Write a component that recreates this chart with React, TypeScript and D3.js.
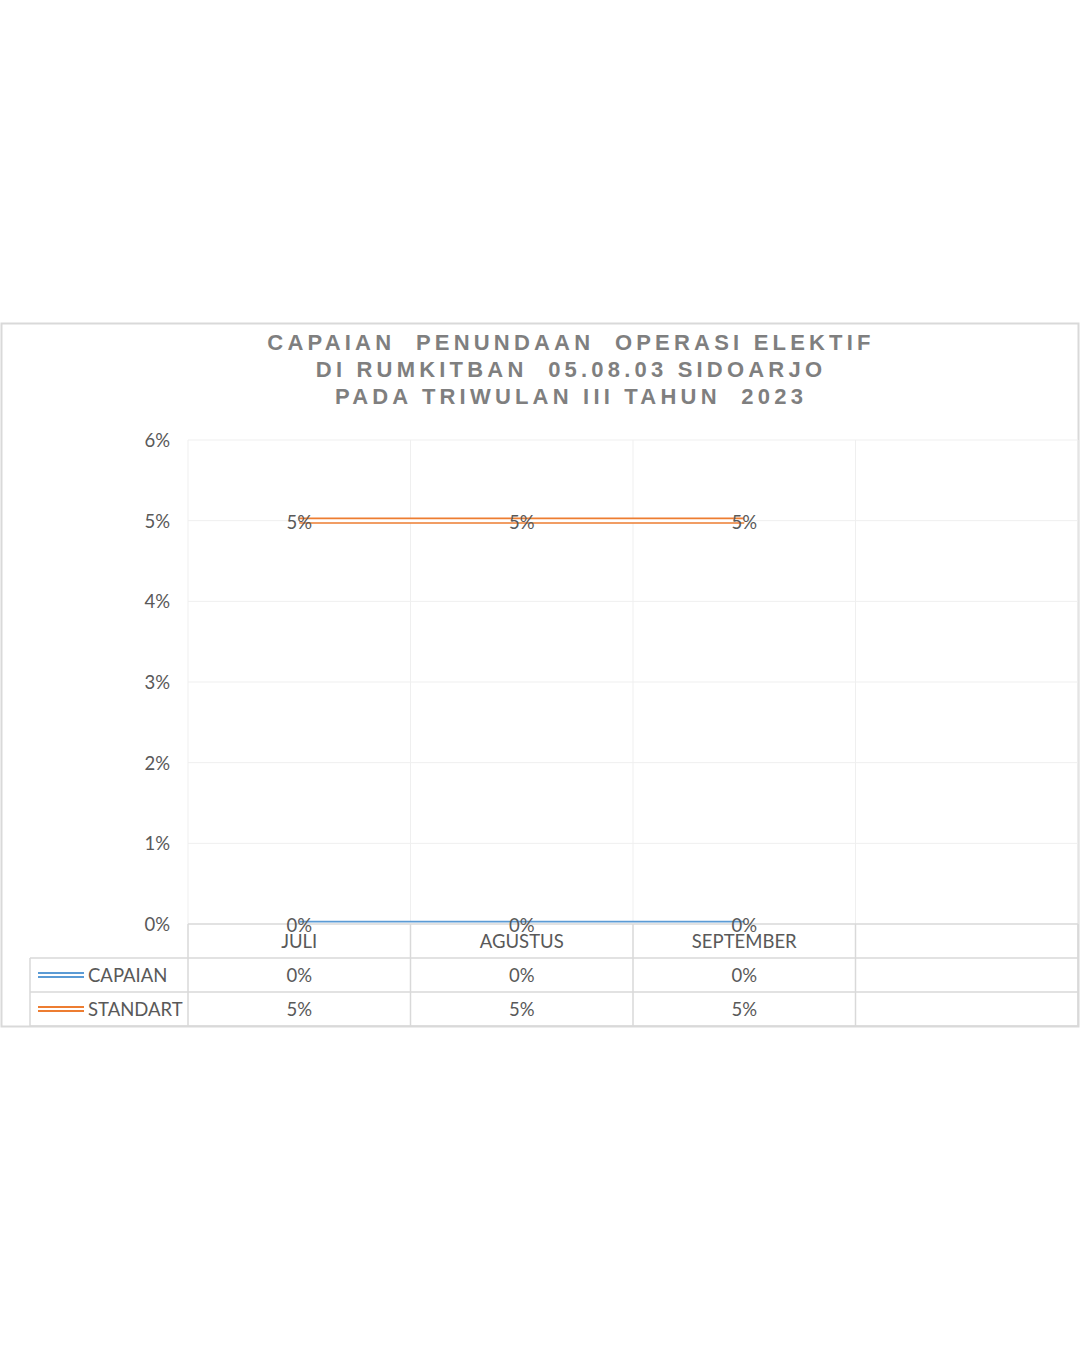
import * as d3 from 'd3';

// chart data
const months = ['JULI', 'AGUSTUS', 'SEPTEMBER', ''];
const capaian = [0, 0, 0];
const standart = [0.05, 0.05, 0.05];
const yTicks = [0, 0.01, 0.02, 0.03, 0.04, 0.05, 0.06];
const titleLines = [
  'CAPAIAN  PENUNDAAN  OPERASI ELEKTIF',
  'DI RUMKITBAN  05.08.03 SIDOARJO',
  'PADA TRIWULAN III TAHUN  2023',
];
const seriesList = [
  { name: 'CAPAIAN', values: capaian, color: '#5b9bd5' },
  { name: 'STANDART', values: standart, color: '#ed7d31' },
];

const W = 1080;
const H = 1350;
const plotLeft = 188;
const plotRight = 1078;
const plotTop = 440;
const plotBottom = 924;
const rowH = 34;
const tableLeft = 30;
const font = 'Lato, "Open Sans", sans-serif';
const textColor = '#595959';

export default function App() {
  const x = d3.scaleBand<string>().domain(months).range([plotLeft, plotRight]);
  const y = d3.scaleLinear().domain([0, 0.06]).range([plotBottom, plotTop]);
  const fmt = d3.format('.0%');
  const cx = (i: number) => (x(months[i]) ?? 0) + x.bandwidth() / 2;

  const line = d3
    .line<number>()
    .x((_, i) => cx(i))
    .y((d) => y(d));

  const colEdges = months.map((m) => x(m) ?? 0).concat([plotRight]);
  const tableRows = [plotBottom + rowH, plotBottom + rowH * 2, plotBottom + rowH * 3];

  return (
    <svg
      width={W}
      height={H}
      style={{ position: 'absolute', left: 0, top: 0, background: '#fff' }}
    >
      <defs>
        <clipPath id="plotClip">
          <rect x={plotLeft} y={plotTop - 10} width={plotRight - plotLeft} height={plotBottom - plotTop + 10} />
        </clipPath>
      </defs>
      <rect x={1.5} y={323.5} width={1077} height={703} fill="#fff" stroke="#d9d9d9" strokeWidth={2} />

      {/* title */}
      {titleLines.map((t, i) => (
        <text
          key={i}
          x={571}
          y={342 + i * 27}
          textAnchor="middle"
          dominantBaseline="central"
          fontFamily='"Liberation Sans", Arial, sans-serif'
          fontWeight="bold"
          fontSize={22}
          letterSpacing={4.2}
          fill="#7f7f7f"
          style={{ whiteSpace: 'pre' }}
        >
          {t}
        </text>
      ))}

      {/* gridlines */}
      {yTicks.slice(1).map((t) => (
        <line key={t} x1={plotLeft} x2={plotRight} y1={y(t)} y2={y(t)} stroke="#efefef" />
      ))}
      {colEdges.map((e, i) => (
        <line key={i} x1={e} x2={e} y1={plotTop} y2={plotBottom} stroke="#efefef" />
      ))}

      {/* y axis labels */}
      {yTicks.map((t) => (
        <text
          key={t}
          x={170}
          y={y(t)}
          textAnchor="end"
          dominantBaseline="central"
          fontFamily={font}
          fontSize={18.5}
          fill={textColor}
        >
          {fmt(t)}
        </text>
      ))}

      {/* series lines (double compound line) */}
      <g clipPath="url(#plotClip)">
        {seriesList.map((s) => (
          <g key={s.name}>
            <path d={line(s.values) ?? ''} fill="none" stroke={s.color} strokeWidth={6.4} />
            <path d={line(s.values) ?? ''} fill="none" stroke="#fff" strokeWidth={3} />
          </g>
        ))}
      </g>

      {/* data table */}
      <line x1={plotLeft} x2={plotRight} y1={plotBottom} y2={plotBottom} stroke="#d9d9d9" strokeWidth={1.5} />
      {tableRows.map((r) => (
        <line key={r} x1={tableLeft} x2={plotRight} y1={r} y2={r} stroke="#d9d9d9" strokeWidth={1.5} />
      ))}
      {colEdges.map((e, i) => (
        <line key={i} x1={e} x2={e} y1={plotBottom} y2={tableRows[2]} stroke="#d9d9d9" strokeWidth={1.5} />
      ))}
      <line x1={tableLeft} x2={tableLeft} y1={tableRows[0]} y2={tableRows[2]} stroke="#d9d9d9" strokeWidth={1.5} />

      {/* data labels */}
      {seriesList.map((s) =>
        s.values.map((v, i) => (
          <text
            key={s.name + i}
            x={cx(i)}
            y={y(v) + 1}
            textAnchor="middle"
            dominantBaseline="central"
            fontFamily={font}
            fontSize={18.5}
            fill={textColor}
          >
            {fmt(v)}
          </text>
        ))
      )}

      {/* category labels */}
      {months.map((m, i) => (
        <text
          key={i}
          x={cx(i)}
          y={plotBottom + 17}
          textAnchor="middle"
          dominantBaseline="central"
          fontFamily={font}
          fontSize={18.5}
          fill={textColor}
        >
          {m}
        </text>
      ))}

      {/* table rows */}
      {seriesList.map((s, r) => {
        const ry = tableRows[r] + rowH / 2;
        return (
          <g key={s.name}>
            <line x1={38} x2={84} y1={ry - 2} y2={ry - 2} stroke={s.color} strokeWidth={1.8} />
            <line x1={38} x2={84} y1={ry + 2} y2={ry + 2} stroke={s.color} strokeWidth={1.8} />
            <text x={88} y={ry} dominantBaseline="central" fontFamily={font} fontSize={18.5} fill={textColor}>
              {s.name}
            </text>
            {s.values.map((v, i) => (
              <text
                key={i}
                x={cx(i)}
                y={ry}
                textAnchor="middle"
                dominantBaseline="central"
                fontFamily={font}
                fontSize={18.5}
                fill={textColor}
              >
                {fmt(v)}
              </text>
            ))}
          </g>
        );
      })}
    </svg>
  );
}
